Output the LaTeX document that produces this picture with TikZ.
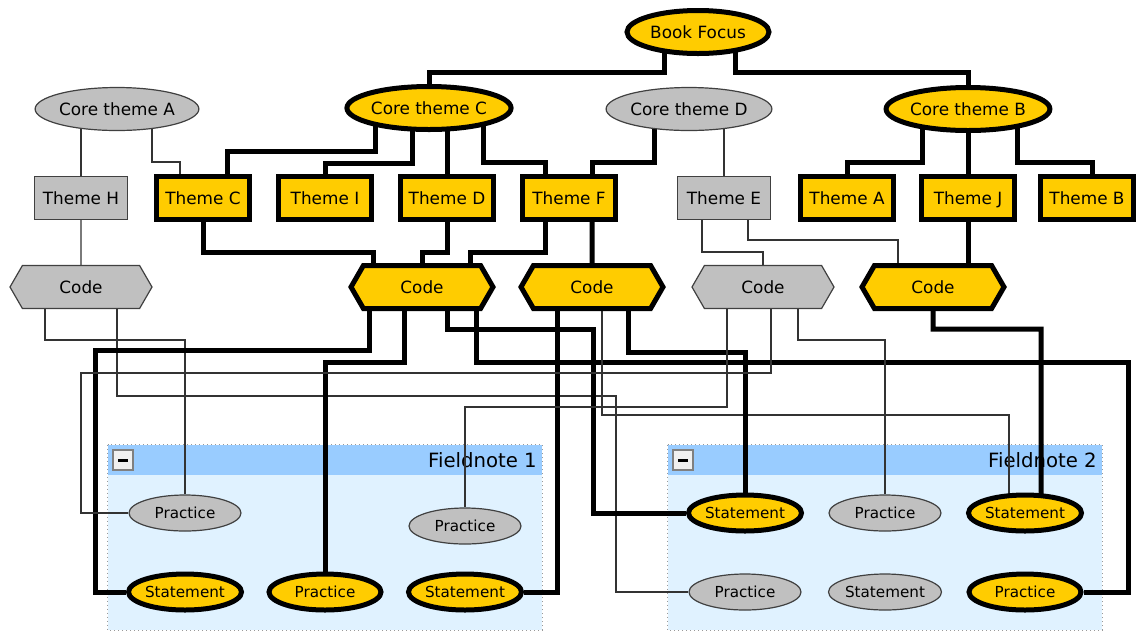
\documentclass[tikz,border=0pt]{standalone}
\usepackage{fontspec}
\setmainfont{DejaVu Sans}
\usetikzlibrary{shapes.geometric,shapes.symbols,calc}
\definecolor{tagyellow}{RGB}{255,204,0}
\definecolor{tagsilver}{RGB}{192,192,192}
\definecolor{notebody}{RGB}{224,242,255}
\definecolor{notehead}{RGB}{153,204,255}
\pgfdeclarelayer{panel}
\pgfdeclarelayer{wires}
\pgfsetlayers{panel,wires,main}

\begin{document}
\begin{tikzpicture}[x=0.25mm, y=-0.25mm, font=\fontsize{12pt}{14pt}\selectfont,
      every node/.style={inner sep=0pt, text depth=0pt},
      core/.style={ellipse, minimum width=35.5mm, minimum height=10.75mm},
      theme/.style={rectangle, minimum width=23.25mm, minimum height=10.75mm},
      code/.style={signal, signal to=east and west, signal pointer angle=120,
        minimum width=35.5mm, minimum height=10.75mm},
      item/.style={ellipse, minimum width=28mm, minimum height=9mm,
        font=\fontsize{10.8pt}{13pt}\selectfont},
      hot/.style={draw=black, line width=1.25mm, fill=tagyellow},
      cold/.style={draw=black!75, line width=0.3mm, fill=tagsilver},
      bond/.style={draw=black, line width=1.25mm},
      trace/.style={draw=black!80, line width=0.3mm},
      sheet/.style={fill=notebody, minimum width=108.5mm, minimum height=46.25mm},
      sheethead/.style={fill=notehead, minimum width=108.5mm, minimum height=7.5mm},
      fold/.style={draw=gray, fill=gray!12, line width=0.3mm, minimum size=5mm}]
    \useasboundingbox (0,0) rectangle (1136,631);

    % fieldnote sheets
    \begin{pgfonlayer}{panel}
      \foreach \n/\x in {1/325, 2/885} {
        \node[sheet] (fn\n) at (\x,537.5) {};
        \node[sheethead] (fn\n head) at (\x,460) {};
        \node[anchor=east, font=\fontsize{14pt}{16pt}\selectfont] (fn\n title) at (\x+212,460) {Fieldnote \n};
        \node[fold] (fn\n fold) at (\x-202,460) {\rule{2.5mm}{0.75mm}};
        \draw[gray!80, line width=0.3mm, dash pattern=on 0.3mm off 0.7mm]
          (fn\n.north west) rectangle (fn\n.south east);
      }
    \end{pgfonlayer}

    % focus and core themes
    \node[core, hot] (book) at (698,32) {Book Focus};
    \node[core, cold] (ctA) at (117,109) {Core theme A};
    \node[core, hot] (ctC) at (429,108) {Core theme C};
    \node[core, cold] (ctD) at (689,109) {Core theme D};
    \node[core, hot] (ctB) at (968,109) {Core theme B};

    % themes
    \node[theme, cold] (thH) at (81,198) {Theme H};
    \node[theme, hot] (thC) at (203,198) {Theme C};
    \node[theme, hot] (thI) at (325,198) {Theme I};
    \node[theme, hot] (thD) at (447,198) {Theme D};
    \node[theme, hot] (thF) at (569,198) {Theme F};
    \node[theme, cold] (thE) at (724,198) {Theme E};
    \node[theme, hot] (thA) at (847,198) {Theme A};
    \node[theme, hot] (thJ) at (968,198) {Theme J};
    \node[theme, hot] (thB) at (1087,198) {Theme B};

    % codes
    \node[code, cold] (code1) at (81,287) {Code};
    \node[code, hot] (code2) at (422,287) {Code};
    \node[code, hot] (code3) at (592,287) {Code};
    \node[code, cold] (code4) at (763,287) {Code};
    \node[code, hot] (code5) at (933,287) {Code};

    % fieldnote 1
    \node[item, cold] (p11) at (185,513) {Practice};
    \node[item, cold] (p12) at (465,526) {Practice};
    \node[item, hot] (s11) at (185,592) {Statement};
    \node[item, hot] (p13) at (325,592) {Practice};
    \node[item, hot] (s12) at (465,592) {Statement};
    % fieldnote 2
    \node[item, hot] (s21) at (745,513) {Statement};
    \node[item, cold] (p21) at (885,513) {Practice};
    \node[item, hot] (s22) at (1025,513) {Statement};
    \node[item, cold] (p22) at (745,592) {Practice};
    \node[item, cold] (s23) at (885,592) {Statement};
    \node[item, hot] (p23) at (1025,592) {Practice};

    \begin{pgfonlayer}{wires}
      % focus to core themes
      \draw[bond] ($(book)+(-34,0)$) -- ++(0,40) -| (ctC);
      \draw[bond] ($(book)+(37,0)$) -- ++(0,40) -| (ctB);
      % core themes to themes
      \draw[trace] (thH |- ctA) -- (thH);
      \draw[trace] ($(ctA)+(35,0)$) -- ++(0,53) -| ($(thC)+(-23,0)$);
      \draw[bond] ($(ctC)+(-54,0)$) -- ++(0,43) -| ($(thC)+(24,0)$);
      \draw[bond] ($(ctC)+(-17,0)$) -- ++(0,55) -| (thI);
      \draw[bond] (thD |- ctC) -- (thD);
      \draw[bond] ($(ctC)+(54,0)$) -- ++(0,54) -| ($(thF)+(-24,0)$);
      \draw[bond] ($(ctD)+(-35,0)$) -- ++(0,53) -| ($(thF)+(23,0)$);
      \draw[trace] (thE |- ctD) -- (thE);
      \draw[bond] ($(ctB)+(-46,0)$) -- ++(0,53) -| (thA);
      \draw[bond] (ctB) -- (thJ);
      \draw[bond] ($(ctB)+(49,0)$) -- ++(0,53) -| ($(thB)+(5,0)$);
      % themes to codes
      \draw[trace] (thH) -- (code1);
      \draw[bond] (thC) -- ++(0,54) -| ($(code2)+(-49,0)$);
      \draw[bond] (thD) -- ++(0,54) -| (code2);
      \draw[bond] ($(thF)+(-24,0)$) -- ++(0,54) -| ($(code2)+(48,0)$);
      \draw[bond] (code3 |- thF) -- (code3);
      \draw[trace] ($(thE)+(-22,0)$) -- ++(0,54) -| (code4);
      \draw[trace] ($(thE)+(24,0)$) -- ++(0,42) -| ($(code5)+(-35,0)$);
      \draw[bond] (thJ) -- (thJ |- code5);
      % codes to fieldnote items
      \draw[trace] ($(code1)+(-36,0)$) -- ++(0,53) -| (p11);
      \draw[trace] ($(code1)+(36,0)$) -- ++(0,109) -| ($(p22)+(-129,0)$) -- (p22);
      \draw[bond] ($(code2)+(-53,0)$) -- ++(0,63) -| ($(s11)+(-90,0)$) -- (s11);
      \draw[bond] ($(code2)+(-18,0)$) -- ++(0,75) -| (p13);
      \draw[bond] ($(code2)+(25,0)$) -- ++(0,42) -| ($(s21)+(-152,0)$) -- (s21);
      \draw[bond] ($(code2)+(54,0)$) -- ++(0,75) -| ($(p23)+(103,0)$) -- (p23);
      \draw[bond] ($(code3)+(-35,0)$) |- (s12);
      \draw[trace] ($(code3)+(10,0)$) -- ++(0,128) -| ($(s22)+(-16,0)$);
      \draw[bond] ($(code3)+(36,0)$) -- ++(0,65) -| (s21);
      \draw[trace] ($(code4)+(-36,0)$) -- ++(0,120) -| (p12);
      \draw[trace] ($(code4)+(8,0)$) -- ++(0,86) -| ($(p11)+(-104,0)$) -- (p11);
      \draw[trace] ($(code4)+(35,0)$) -- ++(0,53) -| (p21);
      \draw[bond] (code5) -- ++(0,42) -| ($(s22)+(16,0)$);
    \end{pgfonlayer}
  \end{tikzpicture}
\end{document}
